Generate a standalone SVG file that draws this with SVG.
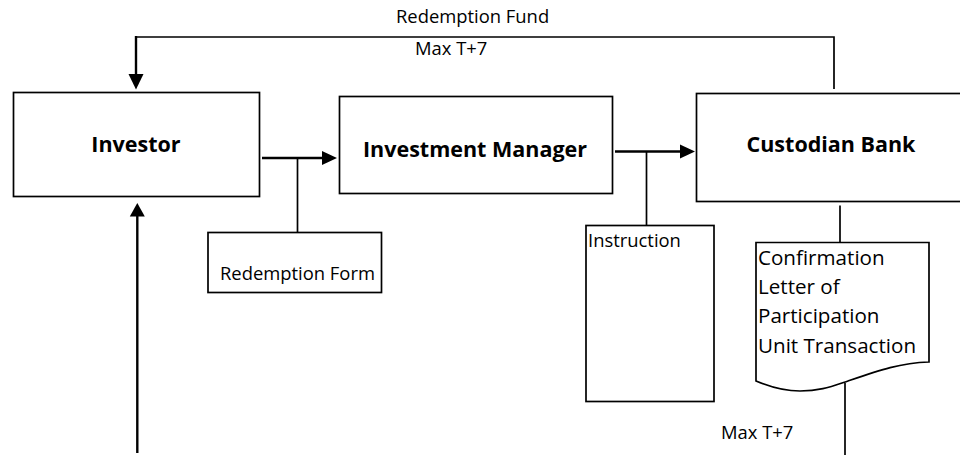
<svg xmlns="http://www.w3.org/2000/svg" width="960" height="455" viewBox="0 0 960 455">
<defs>
<style>
.box{fill:#fff;stroke:#000;stroke-width:1.7}
.ln{fill:none;stroke:#000;stroke-width:1.7}
.arr{fill:none;stroke:#000;stroke-width:2.4}
.hd{fill:#000;stroke:none}
.b{font-family:"Open Sans","Liberation Sans",sans-serif;font-weight:bold;font-size:21.5px;fill:#000}
.t{font-family:"Open Sans","Liberation Sans",sans-serif;font-size:18.4px;fill:#000}
.d{font-family:"Open Sans","Liberation Sans",sans-serif;font-size:20.6px;fill:#000}
</style>
</defs>
<rect width="960" height="455" fill="#fff"/>
<g id="investor">
<rect class="box" x="13.5" y="92.5" width="246" height="104"/>
<text class="b" x="136" y="152" text-anchor="middle">Investor</text>
</g>
<g id="investment-manager">
<rect class="box" x="339.5" y="96.5" width="273" height="97"/>
<text class="b" x="475" y="157" text-anchor="middle">Investment Manager</text>
</g>
<g id="custodian-bank">
<rect class="box" x="696.5" y="93.5" width="280" height="108"/>
<text class="b" x="831" y="152" text-anchor="middle">Custodian Bank</text>
</g>
<g id="redemption-form">
<rect class="box" x="208" y="232.5" width="173.5" height="60"/>
<text class="t" x="220" y="280">Redemption Form</text>
</g>
<g id="instruction">
<rect class="box" x="586" y="225.5" width="128" height="176"/>
<text class="t" x="588" y="247">Instruction</text>
</g>
<g id="confirmation-letter">
<path class="box" d="M756,242.5 H929 V362 C900,363 880,370 848,381 C830,387 820,391 800,391 C790,391 775,389 756,381 Z"/>
<text class="d" x="758" y="265">Confirmation</text>
<text class="d" x="758" y="294">Letter of</text>
<text class="d" x="758" y="323">Participation</text>
<text class="d" x="758" y="352.5">Unit Transaction</text>
</g>
<g id="connectors">
<polyline class="ln" points="834,89 834,37 136,37"/>
<line class="arr" x1="136" y1="36" x2="136" y2="76"/>
<polygon class="hd" points="128.5,74 143.5,74 136,89.5"/>
<text class="t" x="396" y="23">Redemption Fund</text>
<text class="t" x="415" y="55">Max T+7</text>
<line class="arr" x1="262" y1="158" x2="323" y2="158"/>
<polygon class="hd" points="322,151 337,158 322,165"/>
<line class="ln" x1="297.5" y1="158" x2="297.5" y2="232.5"/>
<line class="arr" x1="615" y1="151.5" x2="681" y2="151.5"/>
<polygon class="hd" points="680,144.5 695,151.5 680,158.5"/>
<line class="ln" x1="646.5" y1="151.5" x2="646.5" y2="225.5"/>
<line class="ln" x1="840" y1="205.5" x2="840" y2="242.5"/>
<line class="ln" x1="845" y1="383" x2="845" y2="455"/>
<text class="t" x="721" y="438.5">Max T+7</text>
<line class="arr" x1="137.3" y1="214" x2="137.3" y2="453"/>
<polygon class="hd" points="129.8,216.5 144.8,216.5 137.3,203"/>
</g>
</svg>
